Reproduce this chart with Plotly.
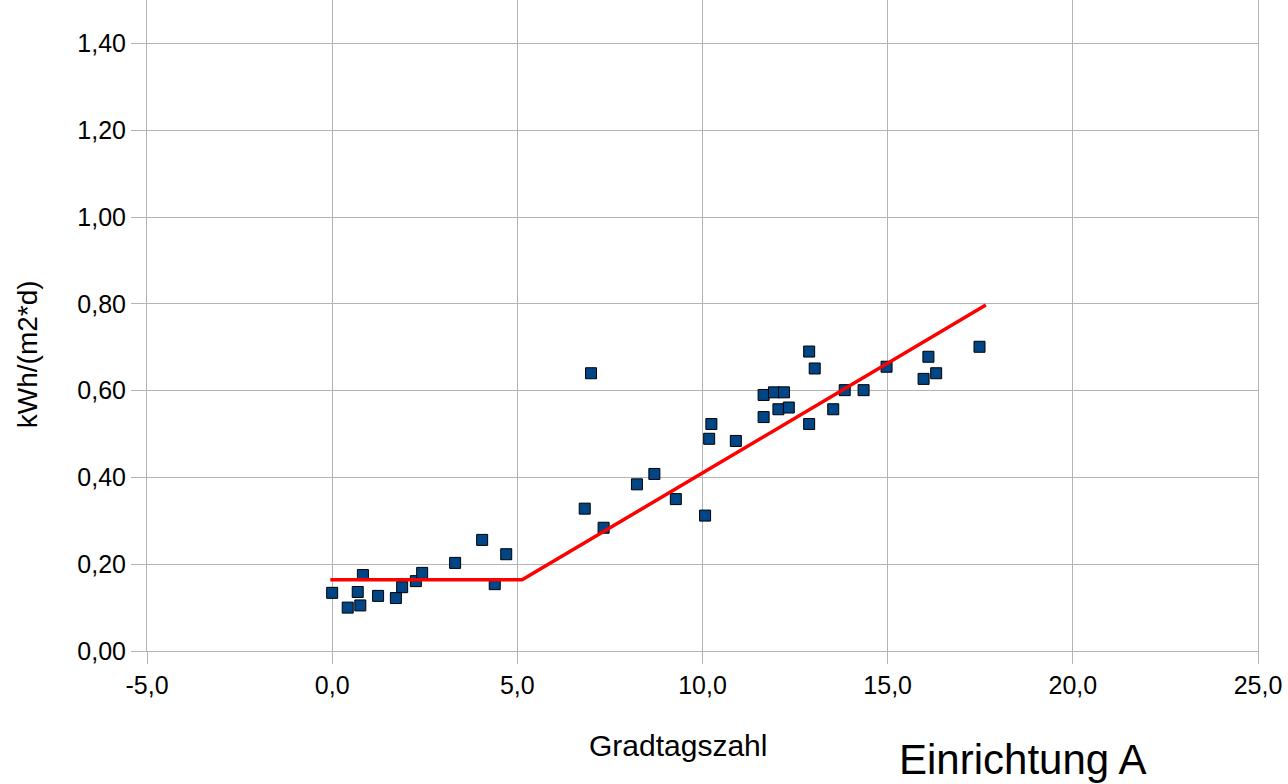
import plotly.graph_objects as go

# Measured data (Gradtagszahl vs. kWh/(m2*d))
gradtag = [0.0, 0.42, 0.76, 0.69, 0.83, 1.24, 1.72, 1.89, 2.26, 2.43, 3.32, 4.05, 4.39, 4.70,
           6.99, 6.82, 7.33, 8.23, 8.70, 9.28, 10.07, 10.18, 10.24, 10.90,
           11.65, 11.65, 11.93, 12.20, 12.05, 12.33, 12.88, 13.03, 12.88, 13.53,
           13.84, 14.35, 14.97, 15.97, 16.10, 16.31, 17.48]
verbrauch = [0.134, 0.100, 0.105, 0.136, 0.175, 0.127, 0.122, 0.147, 0.161, 0.180, 0.203, 0.256, 0.154, 0.223,
             0.640, 0.328, 0.284, 0.384, 0.408, 0.350, 0.312, 0.489, 0.523, 0.484,
             0.590, 0.539, 0.596, 0.596, 0.557, 0.561, 0.690, 0.651, 0.523, 0.557,
             0.601, 0.601, 0.655, 0.627, 0.678, 0.640, 0.701]

# Fitted model line (base load + linear heating part)
fit_x = [-0.05, 5.13, 17.65]
fit_y = [0.164, 0.164, 0.797]

x_ticks = [-5, 0, 5, 10, 15, 20, 25]
x_ticktext = ["-5,0", "0,0", "5,0", "10,0", "15,0", "20,0", "25,0"]
y_ticks = [0, 0.2, 0.4, 0.6, 0.8, 1.0, 1.2, 1.4]
y_ticktext = ["0,00", "0,20", "0,40", "0,60", "0,80", "1,00", "1,20", "1,40"]

FONT = "Liberation Sans, Arial, sans-serif"
GRID = "#b3b3b3"

fig = go.Figure()
fig.add_trace(go.Scatter(
    x=gradtag, y=verbrauch, mode="markers",
    marker=dict(symbol="square", size=11, color="#004586",
                line=dict(color="#000000", width=1)),
    showlegend=False, cliponaxis=False))
fig.add_trace(go.Scatter(
    x=fit_x, y=fit_y, mode="lines",
    line=dict(color="#ff0000", width=3.5),
    showlegend=False))

fig.update_layout(
    width=1288, height=784,
    margin=dict(l=147, r=30, t=0, b=133),
    paper_bgcolor="white", plot_bgcolor="white",
    font=dict(family=FONT, color="#000000", size=25),
    xaxis=dict(range=[-5, 25], tickvals=x_ticks, ticktext=x_ticktext,
               showgrid=True, gridcolor=GRID, gridwidth=1,
               showline=True, linecolor=GRID, linewidth=1, mirror=True,
               ticks="outside", ticklen=12, tickcolor=GRID,
               zeroline=False, tickfont=dict(size=25)),
    yaxis=dict(range=[0, 1.5], tickvals=y_ticks, ticktext=y_ticktext,
               showgrid=True, gridcolor=GRID, gridwidth=1,
               showline=True, linecolor=GRID, linewidth=1, mirror=True,
               ticks="outside", ticklen=15, tickcolor=GRID,
               zeroline=False, tickfont=dict(size=25)),
    annotations=[
        dict(text="Gradtagszahl", xref="paper", yref="paper", x=0.478, y=-0.145,
             showarrow=False, font=dict(size=30), xanchor="center", yanchor="middle"),
        dict(text="kWh/(m2*d)", xref="paper", yref="paper", x=-0.108, y=0.456,
             showarrow=False, font=dict(size=28), textangle=-90,
             xanchor="center", yanchor="middle"),
        dict(text="Einrichtung A", xref="paper", yref="paper", x=0.7885, y=-0.167,
             showarrow=False, font=dict(size=42), xanchor="center", yanchor="middle"),
    ],
)

fig.write_html("out.html")
